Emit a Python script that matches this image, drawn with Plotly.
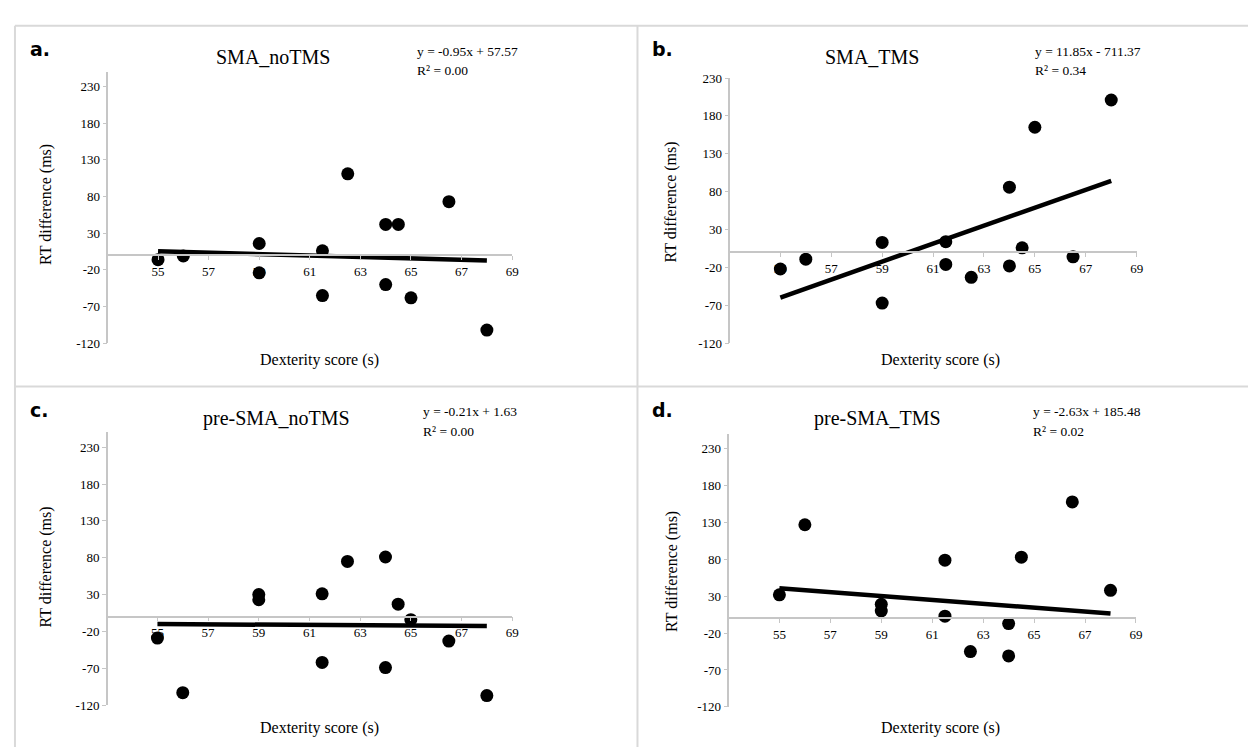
import plotly.graph_objects as go

# ---------------- data ----------------
panel_labels = ["a.", "b.", "c.", "d."]
panel_titles = ["SMA_noTMS", "SMA_TMS", "pre-SMA_noTMS", "pre-SMA_TMS"]

x_sma_notms = [55, 56, 59, 59, 61.5, 61.5, 62.5, 64, 64, 64.5, 65, 66.5, 68]
y_sma_notms = [-6, -1, 16, -24, 6, -55, 111, 42, -40, 42, -58, 73, -102]

x_sma_tms = [55, 56, 59, 59, 61.5, 61.5, 62.5, 64, 64, 64.5, 65, 66.5, 68]
y_sma_tms = [-22, -9, 13, -67, 14, -16, -33, 86, -18, 6, 165, -6, 201]

x_pre_notms = [55, 56, 59, 59, 61.5, 61.5, 62.5, 64, 64, 64.5, 65, 66.5, 68]
y_pre_notms = [-29, -103, 30, 23, 31, -62, 75, 81, -69, 17, -4, -33, -107]

x_pre_tms = [55, 56, 59, 59, 61.5, 61.5, 62.5, 64, 64, 64.5, 66.5, 68]
y_pre_tms = [32, 127, 19, 10, 79, 3, -45, -7, -51, 83, 158, 38]

slopes = [-0.95, 11.85, -0.21, -2.63]
intercepts = [57.57, -711.37, 1.63, 185.48]
eq_labels = ["y = -0.95x + 57.57", "y = 11.85x - 711.37", "y = -0.21x + 1.63", "y = -2.63x + 185.48"]
r2_labels = ["R² = 0.00", "R² = 0.34", "R² = 0.00", "R² = 0.02"]

x_ticks = [55, 57, 59, 61, 63, 65, 67, 69]
y_ticks = [-120, -70, -20, 30, 80, 130, 180, 230]
y_max = [250, 230, 250, 250]

xs = [x_sma_notms, x_sma_tms, x_pre_notms, x_pre_tms]
ys = [y_sma_notms, y_sma_tms, y_pre_notms, y_pre_tms]

# ---------------- layout geometry (pixels) ----------------
W, H = 1256, 747
# plot area: x-left, x-right, y-top, y-bottom (pixels)
boxes = [
    (100, 507, 58, 335),
    (725.5, 1135, 64.3, 335),
    (99.3, 507, 426, 704.3),
    (724.5, 1134.3, 427.7, 706),
]
title_pos = [(266, 43), (869, 43), (270, 412), (874, 412)]
eq_pos = [(409, 37, 57), (1031, 37, 57), (415, 405, 425), (1029, 405, 425)]
lab_pos = [(20, 35), (646, 35), (20, 403), (646, 403)]
xt_pos = [(313, 352), (938, 352), (313, 728), (938, 728)]
yt_pos = [(38, 193), (667, 191), (38, 563), (667, 568)]

FONT = "Liberation Serif, Times New Roman, serif"
AXC = "#c6c6c6"

def px(xp):
    return xp / W

def py(yp):
    return 1 - yp / H

fig = go.Figure()
layout = dict(
    width=W, height=H, margin=dict(l=0, r=0, t=0, b=0),
    paper_bgcolor="white", plot_bgcolor="rgba(0,0,0,0)",
    showlegend=False, font=dict(family=FONT, color="black"),
)
annotations = []
shapes = []

for i in range(4):
    n = "" if i == 0 else str(i + 1)
    xa, ya = "x" + n, "y" + n
    x0, x1, yt, yb = boxes[i]
    ymin, ymax = -120, y_max[i]
    ydom = [py(yb), py(yt)]
    zero_frac = ydom[0] + (0 - ymin) / (ymax - ymin) * (ydom[1] - ydom[0])

    fig.add_trace(go.Scatter(
        x=xs[i], y=ys[i], mode="markers", xaxis=xa, yaxis=ya,
        marker=dict(size=13, color="black"), hoverinfo="x+y"))
    lx = [min(xs[i]), max(xs[i])]
    ly = [slopes[i] * v + intercepts[i] for v in lx]
    fig.add_trace(go.Scatter(
        x=lx, y=ly, mode="lines", xaxis=xa, yaxis=ya,
        line=dict(color="black", width=4.5), hoverinfo="skip"))

    layout["xaxis" + n] = dict(
        domain=[px(x0), px(x1)], range=[53, 69], anchor="free", position=zero_frac,
        showgrid=False, zeroline=False, showline=True, linecolor=AXC, linewidth=1.5,
        ticks="outside", ticklen=4, tickcolor=AXC, tickwidth=1,
        tickvals=x_ticks, ticktext=[str(v) for v in x_ticks],
        tickfont=dict(family=FONT, size=13, color="black"), fixedrange=True)
    layout["yaxis" + n] = dict(
        domain=ydom, range=[ymin, ymax], anchor="free", position=px(x0),
        showgrid=False, zeroline=False, showline=True, linecolor=AXC, linewidth=1.5,
        ticks="outside", ticklen=4, tickcolor=AXC, tickwidth=1,
        tickvals=y_ticks, ticktext=[str(v) for v in y_ticks],
        tickfont=dict(family=FONT, size=13, color="black"), fixedrange=True)

    tx, ty = title_pos[i]
    annotations.append(dict(text=panel_titles[i], x=px(tx), y=py(ty), xref="paper", yref="paper",
                            xanchor="center", yanchor="middle", showarrow=False,
                            font=dict(family=FONT, size=20)))
    ex, ey1, ey2 = eq_pos[i]
    annotations.append(dict(text=eq_labels[i], x=px(ex), y=py(ey1), xref="paper", yref="paper",
                            xanchor="left", yanchor="middle", showarrow=False,
                            font=dict(family=FONT, size=13.5)))
    annotations.append(dict(text=r2_labels[i], x=px(ex), y=py(ey2), xref="paper", yref="paper",
                            xanchor="left", yanchor="middle", showarrow=False,
                            font=dict(family=FONT, size=13.5)))
    lxp, lyp = lab_pos[i]
    annotations.append(dict(text="<b>" + panel_labels[i] + "</b>", x=px(lxp), y=py(lyp),
                            xref="paper", yref="paper", xanchor="left", yanchor="middle",
                            showarrow=False, font=dict(family="DejaVu Sans, sans-serif", size=19)))
    xtx, xty = xt_pos[i]
    annotations.append(dict(text="Dexterity score (s)", x=px(xtx), y=py(xty), xref="paper", yref="paper",
                            xanchor="center", yanchor="middle", showarrow=False,
                            font=dict(family=FONT, size=16)))
    ytx, yty = yt_pos[i]
    annotations.append(dict(text="RT difference (ms)", x=px(ytx), y=py(yty), xref="paper", yref="paper",
                            xanchor="center", yanchor="middle", showarrow=False, textangle=-90,
                            font=dict(family=FONT, size=16)))

# panel frame lines
BC = "#d9d9d9"
for yy in (11, 379):
    shapes.append(dict(type="line", xref="paper", yref="paper", x0=px(7), x1=1, y0=py(yy), y1=py(yy),
                       line=dict(color=BC, width=2)))
for xx in (7, 633):
    shapes.append(dict(type="line", xref="paper", yref="paper", x0=px(xx), x1=px(xx), y0=py(11), y1=0,
                       line=dict(color=BC, width=2)))

layout["annotations"] = annotations
layout["shapes"] = shapes
fig.update_layout(**layout)
fig.write_html("out.html")
